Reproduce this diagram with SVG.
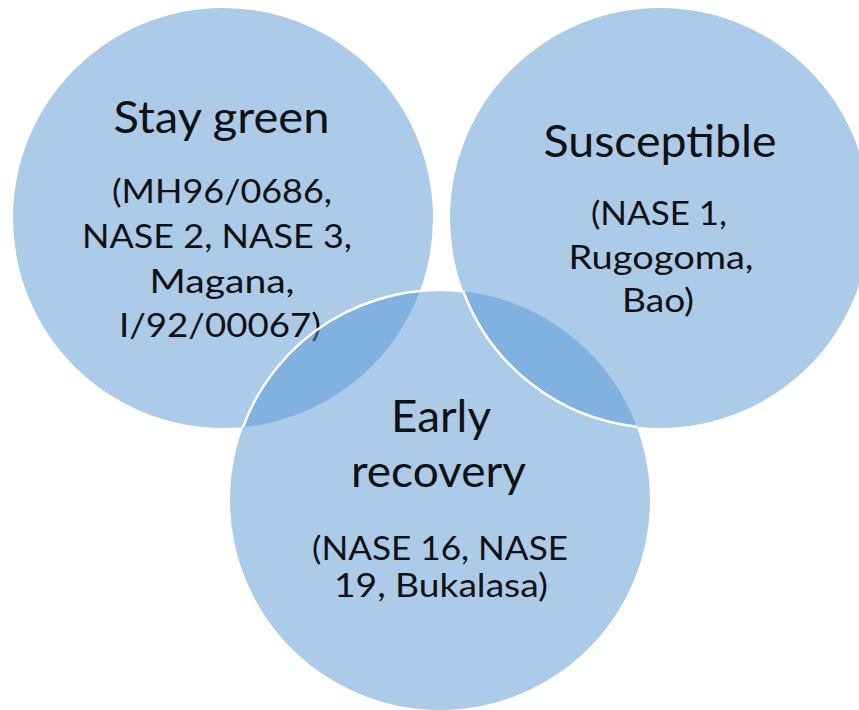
<svg xmlns="http://www.w3.org/2000/svg" width="859" height="710" viewBox="0 0 859 710">
<style>
.c{fill:#5897d3;fill-opacity:0.5}
.e{fill:none;stroke:#fff;stroke-width:2.5}
.t{font-family:Lato,"Liberation Sans",sans-serif;fill:#111;text-anchor:middle}
.h{font-size:44px}
.s{font-size:32px}
</style>
<rect width="859" height="710" fill="#fff"/>
<g id="stay-green">
<circle class="c" cx="223" cy="218" r="210"/>
<text class="t h" x="221.5" y="133" textLength="216" lengthAdjust="spacingAndGlyphs">Stay green</text>
<text class="t s" x="222" y="203" textLength="220" lengthAdjust="spacingAndGlyphs">(MH96/0686,</text>
<text class="t s" x="217" y="248" textLength="270" lengthAdjust="spacingAndGlyphs">NASE 2, NASE 3,</text>
<text class="t s" x="222" y="293" textLength="145" lengthAdjust="spacingAndGlyphs">Magana,</text>
<text class="t s" x="220" y="337" textLength="202" lengthAdjust="spacingAndGlyphs">I/92/00067)</text>
</g>
<g id="early-recovery">
<circle class="c" cx="440" cy="500" r="210"/>
<path class="e" d="M243,427.1 A210,210 0 0 1 463.2,291.3"/>
<text class="t h" x="441" y="432" textLength="100" lengthAdjust="spacingAndGlyphs">Early</text>
<text class="t h" x="438.5" y="487" textLength="175" lengthAdjust="spacingAndGlyphs">recovery</text>
<text class="t s" x="440" y="560" textLength="256" lengthAdjust="spacingAndGlyphs">(NASE 16, NASE</text>
<text class="t s" x="441" y="597" textLength="214" lengthAdjust="spacingAndGlyphs">19, Bukalasa)</text>
</g>
<g id="susceptible">
<circle class="c" cx="660" cy="218" r="210"/>
<path class="e" d="M463.2,291.3 A210,210 0 0 0 636.8,426.7"/>
<text class="t h" x="660" y="157" textLength="233" lengthAdjust="spacingAndGlyphs">Susceptible</text>
<text class="t s" x="659" y="225" textLength="136" lengthAdjust="spacingAndGlyphs">(NASE 1,</text>
<text class="t s" x="661" y="269" textLength="185" lengthAdjust="spacingAndGlyphs">Rugogoma,</text>
<text class="t s" x="658" y="312" textLength="72" lengthAdjust="spacingAndGlyphs">Bao)</text>
</g>
</svg>
